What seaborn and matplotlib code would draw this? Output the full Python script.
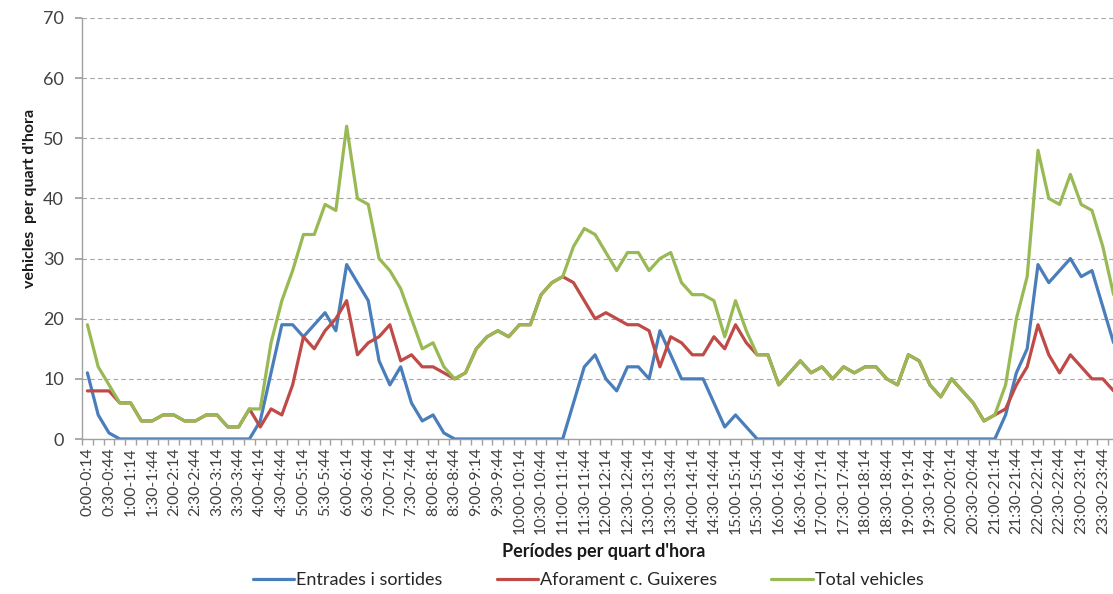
import numpy as np
import pandas as pd
import matplotlib
matplotlib.use("Agg")
import matplotlib.pyplot as plt
from matplotlib.lines import Line2D
import seaborn as sns

# quarter-hour periods, labelled every half hour on the axis
periods = [f"{h}:{m:02d}-{h}:{m + 14:02d}" for h in range(24) for m in (0, 15, 30, 45)]

entrades = [11, 4, 1, 0, 0, 0, 0, 0, 0, 0, 0, 0, 0, 0, 0, 0,
            3, 11, 19, 19, 17, 19, 21, 18, 29, 26, 23, 13, 9, 12, 6, 3,
            4, 1, 0, 0, 0, 0, 0, 0, 0, 0, 0, 0, 0, 6, 12, 14,
            10, 8, 12, 12, 10, 18, 14, 10, 10, 10, 6, 2, 4, 2, 0, 0,
            0, 0, 0, 0, 0, 0, 0, 0, 0, 0, 0, 0, 0, 0, 0, 0,
            0, 0, 0, 0, 0, 4, 11, 15, 29, 26, 28, 30, 27, 28, 22, 16]

aforament = [8, 8, 8, 6, 6, 3, 3, 4, 4, 3, 3, 4, 4, 2, 2, 5,
             2, 5, 4, 9, 17, 15, 18, 20, 23, 14, 16, 17, 19, 13, 14, 12,
             12, 11, 10, 11, 15, 17, 18, 17, 19, 19, 24, 26, 27, 26, 23, 20,
             21, 20, 19, 19, 18, 12, 17, 16, 14, 14, 17, 15, 19, 16, 14, 14,
             9, 11, 13, 11, 12, 10, 12, 11, 12, 12, 10, 9, 14, 13, 9, 7,
             10, 8, 6, 3, 4, 5, 9, 12, 19, 14, 11, 14, 12, 10, 10, 8]

total = [19, 12, 9, 6, 6, 3, 3, 4, 4, 3, 3, 4, 4, 2, 2, 5,
         5, 16, 23, 28, 34, 34, 39, 38, 52, 40, 39, 30, 28, 25, 20, 15,
         16, 12, 10, 11, 15, 17, 18, 17, 19, 19, 24, 26, 27, 32, 35, 34,
         31, 28, 31, 31, 28, 30, 31, 26, 24, 24, 23, 17, 23, 18, 14, 14,
         9, 11, 13, 11, 12, 10, 12, 11, 12, 12, 10, 9, 14, 13, 9, 7,
         10, 8, 6, 3, 4, 9, 20, 27, 48, 40, 39, 44, 39, 38, 32, 24]

series_names = ["Entrades i sortides", "Aforament c. Guixeres", "Total vehicles"]
colors = ["#4A7EBB", "#BE4B48", "#98B954"]

assert len(entrades) == len(aforament) == len(total) == len(periods) == 96

df = pd.DataFrame({"idx": np.arange(96), series_names[0]: entrades,
                   series_names[1]: aforament, series_names[2]: total})
long = df.melt(id_vars="idx", var_name="serie", value_name="vehicles")

sns.set_theme(style="white")
plt.rcParams["font.family"] = ["Lato", "DejaVu Sans"]

fig = plt.figure(figsize=(11.13, 5.94), dpi=100)
ax = fig.add_axes([82 / 1113, 1 - 439 / 594, 1037 / 1113, 421 / 594])

sns.lineplot(data=long, x="idx", y="vehicles", hue="serie", hue_order=series_names,
             palette=colors, linewidth=2.3, ax=ax, legend=False)

ax.set_xlim(-0.5, 95.5)
ax.set_ylim(0, 70)
ax.set_yticks(range(0, 71, 10))
ax.yaxis.grid(True, color="#a6a6a6", linestyle=(0, (4, 3)), linewidth=0.8)
ax.set_axisbelow(True)

ax.set_xticks(np.arange(0, 96, 2))
ax.set_xticklabels(periods[::2], rotation=90, fontsize=11.3, color="#404040")
ax.set_xticks(np.arange(-0.5, 96, 1), minor=True)
ax.tick_params(axis="x", which="major", length=0, pad=6)
ax.tick_params(axis="x", which="minor", length=4, color="#a0a0a0", direction="out", bottom=True)
ax.tick_params(axis="y", labelsize=13, labelcolor="#404040", length=5, color="#a0a0a0",
               direction="out", left=True, pad=8)

for side in ["top", "right"]:
    ax.spines[side].set_visible(False)
for side in ["left", "bottom"]:
    ax.spines[side].set_color("#a0a0a0")
    ax.spines[side].set_linewidth(1)

ax.set_xlabel("")
ax.set_ylabel("")
fig.text(30 / 1113, 1 - 198 / 594, "vehicles  per quart d'hora", rotation=90,
         ha="center", va="center", fontsize=11.5, fontweight="bold", color="#1a1a1a")
fig.text(604 / 1113, 1 - 552 / 594, "Períodes per quart d'hora", ha="center", va="center",
         fontsize=13, fontweight="bold", color="#1a1a1a")

handles = [Line2D([0], [0], color=c, lw=2.3) for c in colors]
fig.legend(handles, series_names, loc="center", bbox_to_anchor=(588 / 1113, 1 - 580 / 594),
           ncol=3, frameon=False, fontsize=13, handlelength=2.3, handletextpad=0.1,
           columnspacing=3.0)

fig.savefig("out.png", dpi=100)
